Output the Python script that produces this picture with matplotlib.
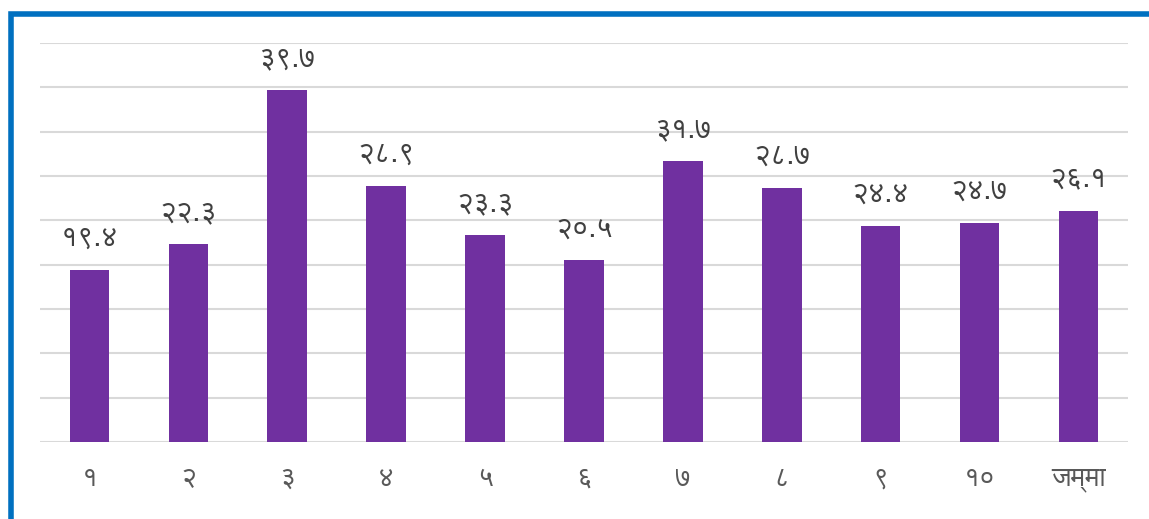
import matplotlib
matplotlib.use("Agg")
import matplotlib.pyplot as plt
from matplotlib import font_manager
from matplotlib.patches import Rectangle

categories = ["१", "२", "३", "४", "५", "६", "७", "८", "९", "१०", "जम्मा"]
values = [19.4, 22.3, 39.7, 28.9, 23.3, 20.5, 31.7, 28.7, 24.4, 24.7, 26.1]
value_labels = ["१९.४", "२२.३", "३९.७", "२८.९", "२३.३", "२०.५", "३१.७", "२८.७", "२४.४", "२४.७", "२६.१"]

# pick a Devanagari capable font that is installed
installed = {f.name for f in font_manager.fontManager.ttflist}
family = "DejaVu Sans"
for name in ["FreeSans", "Noto Sans Devanagari", "Mukta", "Annapurna SIL"]:
    if name in installed:
        family = name
        break
plt.rcParams["font.family"] = [family, "DejaVu Sans"]

fig = plt.figure(figsize=(11.49, 5.19), dpi=100)
ax = fig.add_axes([0.0348, 0.1484, 0.9469, 0.7687])

x = list(range(len(values)))
ax.bar(x, values, width=0.4, color="#7030A0", zorder=3)

for xi, v, lab in zip(x, values, value_labels):
    ax.annotate(lab, (xi, v), xytext=(0, 13), textcoords="offset points",
                ha="center", va="bottom", fontsize=21, color="#404040")

ax.set_xlim(-0.5, len(values) - 0.5)
ax.set_ylim(0, 45)
ax.set_yticks(range(0, 46, 5))
ax.set_yticklabels([])
ax.set_xticks(x)
ax.set_xticklabels(categories, fontsize=20, color="#595959")
ax.tick_params(axis="both", length=0)
ax.tick_params(axis="x", pad=17)
ax.grid(axis="y", color="#d9d9d9", linewidth=1.5, zorder=0)
for s in ax.spines.values():
    s.set_visible(False)

# blue frame, right and bottom edges run off the picture
fig.patches.append(Rectangle((0.0096, -0.2), 1.2, 1.173, transform=fig.transFigure,
                             fill=False, edgecolor="#0070C0", linewidth=4))

fig.savefig("out.png")
